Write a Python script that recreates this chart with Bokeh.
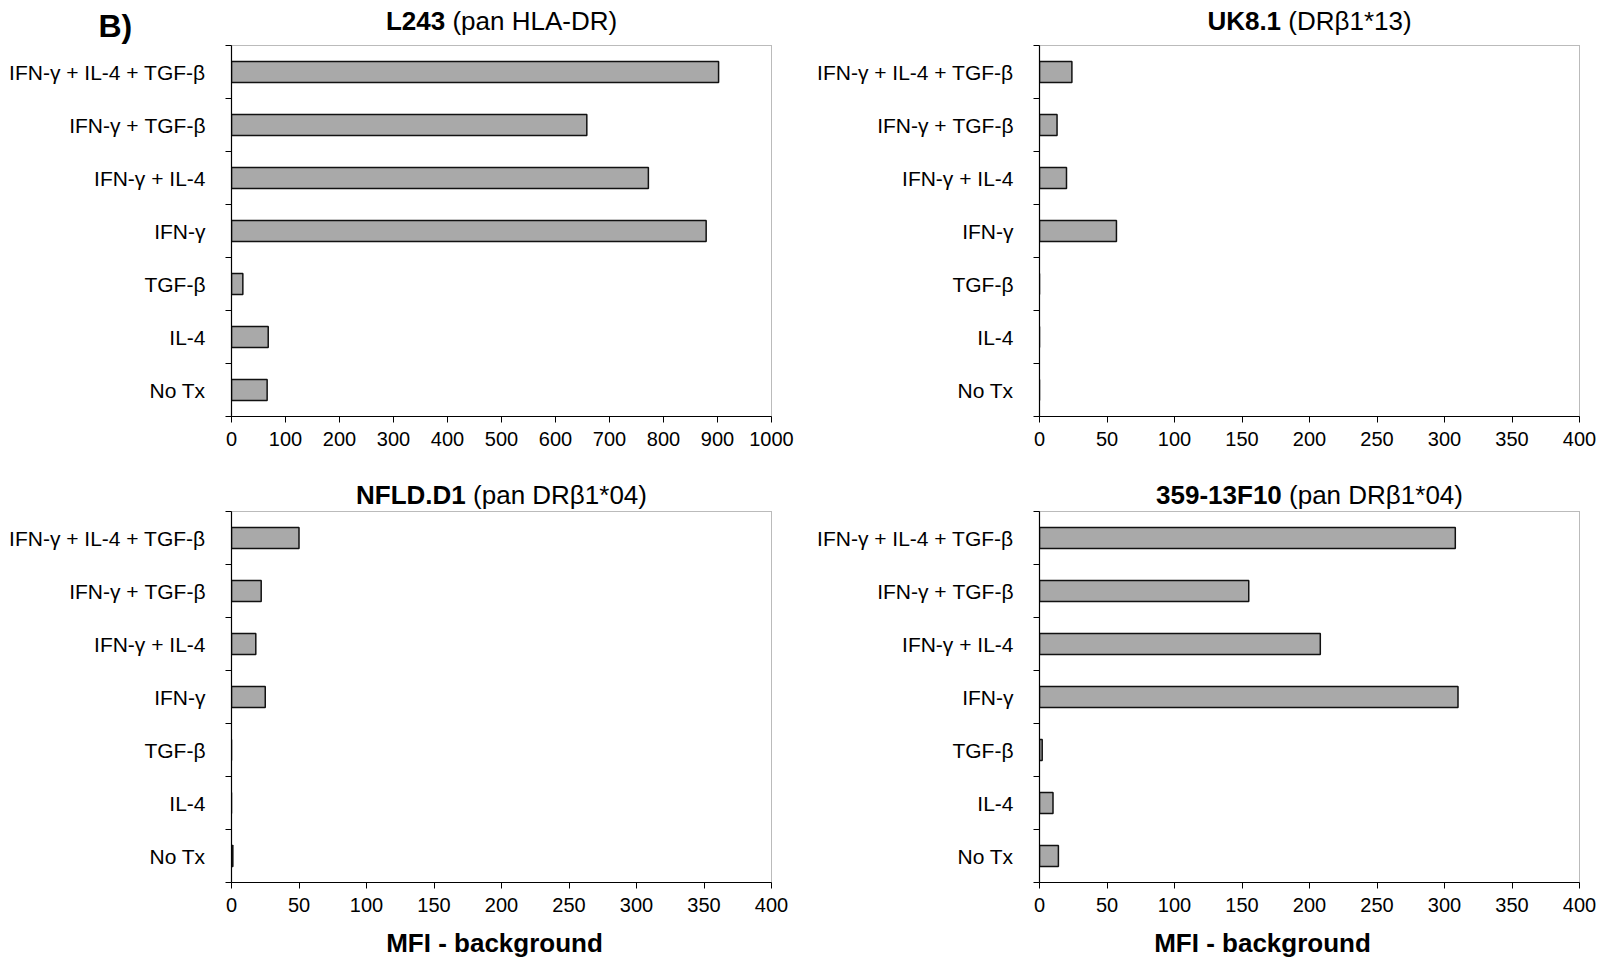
from bokeh.plotting import figure
from bokeh.models import Range1d, FixedTicker, Label
from bokeh.layouts import column, row
from bokeh.embed import file_html
from bokeh.resources import INLINE

# ---------------- data ----------------
categories = ["IFN-γ + IL-4 + TGF-β", "IFN-γ + TGF-β", "IFN-γ + IL-4",
              "IFN-γ", "TGF-β", "IL-4", "No Tx"]
l243_values = [902, 658, 772, 879, 21, 68, 66]
uk81_values = [24, 13, 20, 57, 0, 0, 0]
nfld_values = [50, 22, 18, 25, 0, 0, 1]
f10_values = [308, 155, 208, 310, 2, 10, 14]
titles_bold = ["L243", "UK8.1", "NFLD.D1", "359-13F10"]
titles_rest = ["(pan HLA-DR)", "(DRβ1*13)", "(pan DRβ1*04)", "(pan DRβ1*04)"]
x_max = [1000, 400, 400, 400]
x_step = [100, 50, 50, 50]
x_axis_label = "MFI - background"
panel_label = "B)"

FONT = "Liberation Sans"
TITLE_SIZE = 26

# approximate Arial advance widths (per 1000 em) for centring the two-part titles
REG_W = {" ": 278, "(": 333, ")": 333, "p": 556, "a": 556, "n": 556, "H": 722,
         "L": 556, "A": 667, "-": 333, "D": 722, "R": 722, "β": 575, "1": 556,
         "*": 389, "3": 556, "0": 556, "4": 556}
BOLD_W = {"L": 611, "2": 556, "4": 556, "3": 556, "U": 722, "K": 722, "8": 556,
          ".": 278, "1": 556, "N": 722, "F": 611, "D": 722, "5": 556, "9": 556,
          "-": 333, "0": 556}


def text_w(s, table, size):
    return sum(table.get(c, 556) for c in s) * size / 1000.0


def blank(width, height):
    """A strip whose frame covers the whole canvas, used to hold free text."""
    f = figure(width=width, height=height, output_backend="svg",
               toolbar_location=None, x_range=Range1d(0, width),
               y_range=Range1d(0, height), x_axis_location=None,
               y_axis_location=None, min_border=0,
               min_border_left=0, min_border_right=0,
               min_border_top=0, min_border_bottom=0)
    f.outline_line_color = None
    f.grid.visible = False
    f.background_fill_color = "white"
    f.border_fill_color = "white"
    return f


def header(width, height, tb, tr, center_x, mid_y):
    h = blank(width, height)
    space = REG_W[" "] * TITLE_SIZE / 1000.0
    bw = text_w(tb, BOLD_W, TITLE_SIZE)
    rw = text_w(tr, REG_W, TITLE_SIZE)
    left = center_x - (bw + space + rw) / 2.0
    h.add_layout(Label(x=left + bw, y=mid_y, text=tb, text_font=FONT,
                       text_font_style="bold", text_font_size=f"{TITLE_SIZE}px",
                       text_align="right", text_baseline="middle",
                       text_color="black"))
    h.add_layout(Label(x=left + bw + space, y=mid_y, text=tr, text_font=FONT,
                       text_font_style="normal", text_font_size=f"{TITLE_SIZE}px",
                       text_align="left", text_baseline="middle",
                       text_color="black"))
    return h


def footer(width, height, center_x, mid_y):
    f = blank(width, height)
    f.add_layout(Label(x=center_x, y=mid_y, text=x_axis_label, text_font=FONT,
                       text_font_style="bold", text_font_size="26px",
                       text_align="center", text_baseline="middle",
                       text_color="black"))
    return f


def make_panel(values, xmax, xstep, width, height, mbl, mbr, mbb):
    n = len(categories)
    ys = [n - i for i in range(n)]
    p = figure(width=width, height=height, output_backend="svg",
               toolbar_location=None, x_range=Range1d(0, xmax),
               y_range=Range1d(0.5, n + 0.5),
               min_border_left=mbl, min_border_right=mbr,
               min_border_top=0, min_border_bottom=mbb)
    p.hbar(y=ys, right=values, left=0, height=0.4,
           fill_color="#a9a9a9", line_color="#111111", line_width=1.5)

    p.xgrid.visible = False
    p.ygrid.visible = False
    p.background_fill_color = "white"
    p.border_fill_color = "white"
    p.outline_line_color = "#777777"
    p.outline_line_dash = "1 1"
    p.outline_line_width = 1

    # y axis: labels at category centres, ticks at boundaries
    ya = p.yaxis[0]
    ya.ticker = FixedTicker(ticks=ys, minor_ticks=[k + 0.5 for k in range(n + 1)])
    ya.major_label_overrides = {y: c for y, c in zip(ys, categories)}
    ya.major_tick_out = 0
    ya.major_tick_in = 0
    ya.minor_tick_out = 6
    ya.minor_tick_in = 0
    ya.minor_tick_line_color = "black"
    ya.axis_line_color = "black"
    ya.axis_line_width = 1.2
    ya.major_label_standoff = 20
    ya.major_label_text_font = FONT
    ya.major_label_text_font_size = "21px"
    ya.major_label_text_color = "black"

    xa = p.xaxis[0]
    xa.ticker = FixedTicker(ticks=list(range(0, xmax + 1, xstep)), minor_ticks=[])
    xa.major_tick_out = 6
    xa.major_tick_in = 0
    xa.major_tick_line_color = "black"
    xa.axis_line_color = "black"
    xa.axis_line_width = 1.2
    xa.major_label_standoff = 9
    xa.major_label_text_font = FONT
    xa.major_label_text_font_size = "20px"
    xa.major_label_text_color = "black"
    return p


# top row: header 45 px, panel 425 px (frame 45..416)
h1 = header(800, 45, titles_bold[0], titles_rest[0], 231 + 270, 25)
h1.add_layout(Label(x=98, y=20, text=panel_label, text_font=FONT,
                    text_font_style="bold", text_font_size="32px",
                    text_align="left", text_baseline="middle",
                    text_color="black"))
h2 = header(815, 45, titles_bold[1], titles_rest[1], 239 + 270, 25)
p1 = make_panel(l243_values, x_max[0], x_step[0], 800, 425, 231, 29, 54)
p2 = make_panel(uk81_values, x_max[1], x_step[1], 815, 425, 239, 36, 54)

# bottom row: header 41 px, panel 411 px (frame 511..882), footer 41 px
h3 = header(800, 41, titles_bold[2], titles_rest[2], 231 + 270, 17)
h4 = header(815, 41, titles_bold[3], titles_rest[3], 239 + 270, 17)
p3 = make_panel(nfld_values, x_max[2], x_step[2], 800, 411, 231, 29, 40)
p4 = make_panel(f10_values, x_max[3], x_step[3], 815, 411, 239, 36, 40)
f3 = footer(800, 41, 494, 21)
f4 = footer(815, 41, 462, 21)

layout = column(row(h1, h2, spacing=0), row(p1, p2, spacing=0),
                row(h3, h4, spacing=0), row(p3, p4, spacing=0),
                row(f3, f4, spacing=0), spacing=0)

open("out.html", "w").write(file_html(layout, INLINE))
